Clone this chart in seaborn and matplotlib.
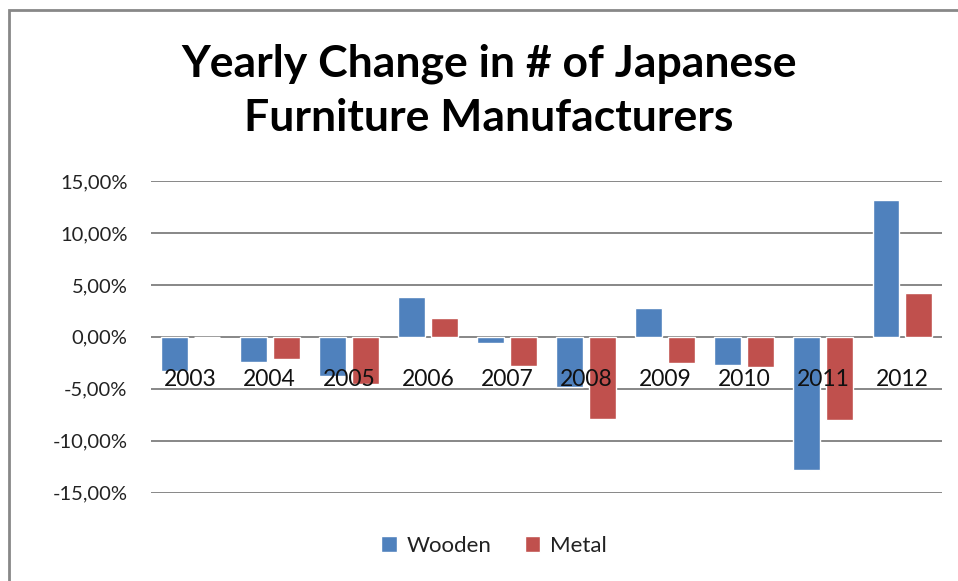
import matplotlib
matplotlib.use("Agg")
import matplotlib.pyplot as plt
from matplotlib.ticker import FuncFormatter, FixedLocator
from matplotlib.patches import Rectangle
import seaborn as sns
import pandas as pd

years = ["2003", "2004", "2005", "2006", "2007", "2008", "2009", "2010", "2011", "2012"]
wooden = [-0.033, -0.024, -0.038, 0.038, -0.006, -0.048, 0.028, -0.027, -0.128, 0.132]
metal = [0.000, -0.021, -0.0455, 0.018, -0.028, -0.079, -0.025, -0.029, -0.080, 0.0425]
series_names = ["Wooden", "Metal"]
colors = ["#4F81BD", "#C0504D"]
yticks = [-0.15, -0.10, -0.05, 0.0, 0.05, 0.10, 0.15]

df = pd.DataFrame({
    "year": years * 2,
    "value": wooden + metal,
    "series": [series_names[0]] * len(years) + [series_names[1]] * len(years),
})

sns.set_style("white")
plt.rcParams["font.family"] = ["Lato", "DejaVu Sans"]

fig = plt.figure(figsize=(9.58, 5.81), dpi=100)
ax = fig.add_axes([151 / 958, 1 - 492.7 / 581, (942 - 151) / 958, (492.7 - 181) / 581])

for y in yticks:
    ax.axhline(y, color="#878787", linewidth=1.4, zorder=0)

sns.barplot(data=df, x="year", y="value", hue="series", order=years,
            hue_order=series_names, palette=colors, width=0.83, gap=0.18,
            saturation=1, ax=ax, legend=True, zorder=3)

ax.set_ylim(-0.15, 0.15)
ax.set_xlim(-0.5, len(years) - 0.5)
ax.yaxis.set_major_locator(FixedLocator(yticks))
ax.yaxis.set_major_formatter(FuncFormatter(
    lambda v, p: ("%.2f%%" % (v * 100)).replace(".", ",").replace("-0,00", "0,00")))
ax.grid(False)
for s in ["top", "right", "left"]:
    ax.spines[s].set_visible(False)
ax.spines["bottom"].set_position(("data", 0))
ax.spines["bottom"].set_visible(False)
ax.xaxis.set_zorder(10)
ax.tick_params(axis="y", length=0, pad=17, labelsize=14.5, labelcolor="#222222")
ax.tick_params(axis="x", length=0, pad=23, labelsize=16.5, labelcolor="#111111")
ax.set_xlabel("")
ax.set_ylabel("")

leg = ax.legend(loc="center", bbox_to_anchor=(494 / 958, 1 - 546 / 581),
                bbox_transform=fig.transFigure, ncol=2, frameon=False,
                fontsize=16, handlelength=0.7, handleheight=0.7,
                columnspacing=1.5, handletextpad=0.45)
for t in leg.get_texts():
    t.set_color("#222222")

fig.text(489 / 958, 1 - 77 / 581, "Yearly Change in # of Japanese",
         ha="center", va="baseline", fontsize=32, fontweight="bold", color="black")
fig.text(489 / 958, 1 - 131 / 581, "Furniture Manufacturers",
         ha="center", va="baseline", fontsize=32, fontweight="bold", color="black")

fig.patches.append(Rectangle((9 / 958, -0.1), 1.2, 1 - 10 / 581 + 0.1,
                             transform=fig.transFigure, fill=False,
                             edgecolor="#888888", linewidth=2))

fig.savefig("out.png", dpi=100)
